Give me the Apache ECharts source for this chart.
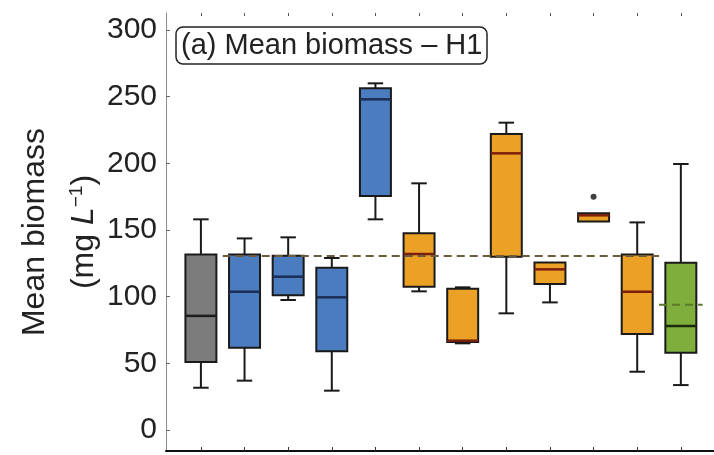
<!DOCTYPE html>
<html>
<head>
<meta charset="utf-8">
<script src="https://cdn.jsdelivr.net/npm/echarts@6/dist/echarts.min.js"></script>
<style>
  html, body { margin: 0; padding: 0; background: #fff; }
  #chart { width: 714px; height: 455px; }
</style>
</head>
<body>
<div id="chart"></div>
<script>
// box positions along x and group of each box
const boxX = [1, 2, 3, 4, 5, 6, 7, 8, 9, 10, 11, 12]
const boxGroup = ['grey', 'blue', 'blue', 'blue', 'blue', 'orange', 'orange', 'orange', 'orange', 'orange', 'orange', 'green']
// five-number summaries (mg L-1)
const boxMin = [31.7, 37, 97.5, 29.5, 158, 104, 65, 87.5, 95.7, 156.3, 43.7, 33.7]
const boxQ1 = [51, 61.7, 101, 59, 175.5, 107.5, 66, 130, 109.5, 156.3, 72, 58]
const boxMedian = [85.6, 103.7, 115, 99.5, 248, 132, 67, 207.5, 120.5, 161, 103.7, 78]
const boxQ3 = [131.7, 131.7, 130.7, 121.7, 256.3, 147.5, 106, 222, 125.7, 162.5, 131.7, 125.5]
const boxMax = [158, 143.7, 144.5, 129, 260, 185, 107, 230.5, 125.7, 162.5, 155.7, 199.5]
// outliers [x, value]
const outliers = [[10, 175]]
// mean lines: treatments and control
const treatMean = [[1.5, 130.5], [11.5, 130.5]]
const controlMean = [[11.5, 94], [12.5, 94]]
const yTicks = [0, 50, 100, 150, 200, 250, 300]

const fills = { grey: '#7c7c7c', blue: '#4b7cc0', orange: '#eaa126', green: '#7fae3c' }
const medians = { grey: '#1c1c1c', blue: '#1b2d55', orange: '#7a1f0c', green: '#1c2a0c' }

const boxData = boxX.map((x, i) => [x, boxMin[i], boxQ1[i], boxMedian[i], boxQ3[i], boxMax[i]])

function renderBox (params, api) {
  const x = api.value(0)
  const lo = api.coord([x, api.value(1)])
  const q1 = api.coord([x, api.value(2)])
  const md = api.coord([x, api.value(3)])
  const q3 = api.coord([x, api.value(4)])
  const hi = api.coord([x, api.value(5)])
  const g = boxGroup[params.dataIndex]
  const w = api.size([0.71, 0])[0]
  const cap = w * 0.25
  const cx = lo[0]
  const stroke = { stroke: '#1a1a1a', lineWidth: 2 }
  const children = []
  if (hi[1] < q3[1] - 0.5) {
    children.push({ type: 'line', shape: { x1: cx, y1: q3[1], x2: cx, y2: hi[1] }, style: stroke })
    children.push({ type: 'line', shape: { x1: cx - cap, y1: hi[1], x2: cx + cap, y2: hi[1] }, style: stroke })
  }
  if (lo[1] > q1[1] + 0.5) {
    children.push({ type: 'line', shape: { x1: cx, y1: q1[1], x2: cx, y2: lo[1] }, style: stroke })
    children.push({ type: 'line', shape: { x1: cx - cap, y1: lo[1], x2: cx + cap, y2: lo[1] }, style: stroke })
  }
  children.push({
    type: 'rect',
    shape: { x: cx - w / 2, y: q3[1], width: w, height: q1[1] - q3[1] },
    style: { fill: fills[g], stroke: '#1a1a1a', lineWidth: 2 }
  })
  children.push({
    type: 'line',
    shape: { x1: cx - w / 2, y1: md[1], x2: cx + w / 2, y2: md[1] },
    style: { stroke: medians[g], lineWidth: 2.5 }
  })
  return { type: 'group', children: children }
}

const chart = echarts.init(document.getElementById('chart'), null, { renderer: 'canvas' })
const font = 'Liberation Sans, Arial, sans-serif'
chart.setOption({
  animation: false,
  backgroundColor: '#fff',
  title: {
    text: '(a) Mean biomass – H1',
    left: 176,
    top: 27,
    padding: [2, 5, 1, 5],
    borderColor: '#222',
    borderWidth: 1.5,
    borderRadius: 7,
    textStyle: { fontFamily: font, fontSize: 29, fontWeight: 'normal', color: '#222', lineHeight: 34 }
  },
  grid: { left: 166, right: 0, top: 13, bottom: 4, containLabel: false, outerBoundsMode: 'none' },
  xAxis: [{
    type: 'value',
    min: 0.2,
    max: 12.76,
    position: 'bottom',
    splitLine: { show: false },
    axisLine: { show: true, onZero: false, lineStyle: { color: '#111', width: 2 } },
    axisTick: { show: true, inside: true, length: 4, customValues: boxX, lineStyle: { color: '#333' } },
    axisLabel: { show: false }
  }, {
    type: 'value',
    min: 0.2,
    max: 12.76,
    position: 'top',
    splitLine: { show: false },
    axisLine: { show: false, onZero: false },
    axisTick: { show: true, inside: true, length: 3, customValues: boxX, lineStyle: { color: '#555' } },
    axisLabel: { show: false }
  }],
  yAxis: {
    type: 'value',
    min: -15.75,
    max: 312.75,
    splitLine: { show: false },
    axisLine: { show: true, onZero: false, lineStyle: { color: '#8a8a8a', width: 1 } },
    axisTick: { show: true, inside: true, length: 4, customValues: yTicks, lineStyle: { color: '#666' } },
    axisLabel: { customValues: yTicks, fontFamily: font, fontSize: 30, color: '#222', margin: 9 },
    name: 'Mean biomass\n{p|(mg }{l|L}{s|−1}{p|)}',
    nameLocation: 'middle',
    nameRotate: 90,
    nameGap: 57,
    nameMoveOverlap: false,
    nameTextStyle: {
      fontFamily: font,
      fontSize: 32,
      color: '#222',
      lineHeight: 49,
      rich: {
        p: { fontFamily: font, fontSize: 32, color: '#222', lineHeight: 49 },
        l: { fontFamily: font, fontSize: 32, color: '#222', lineHeight: 49, fontStyle: 'italic' },
        s: { fontFamily: font, fontSize: 19, color: '#222', lineHeight: 49, padding: [0, 0, 15, 0] }
      }
    }
  },
  series: [{
    type: 'custom',
    renderItem: renderBox,
    encode: { x: 0, y: [1, 2, 3, 4, 5] },
    data: boxData,
    z: 2
  }, {
    type: 'line',
    data: treatMean,
    symbol: 'none',
    lineStyle: { color: '#6e5a3c', width: 2, type: [8, 5] },
    z: 3
  }, {
    type: 'line',
    data: controlMean,
    symbol: 'none',
    lineStyle: { color: '#5d7a2c', width: 2, type: [8, 5] },
    z: 3
  }, {
    type: 'scatter',
    data: outliers,
    symbol: 'circle',
    symbolSize: 6,
    itemStyle: { color: '#111' },
    z: 4
  }]
})
</script>
</body>
</html>
